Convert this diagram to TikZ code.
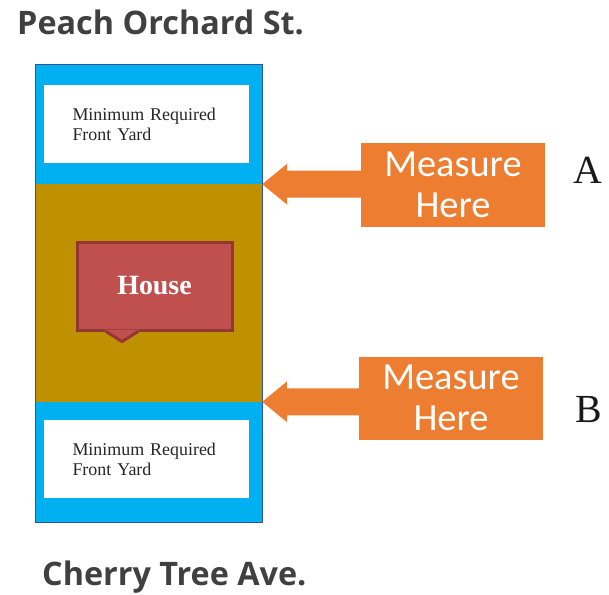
\documentclass[tikz,border=0pt]{standalone}
\usepackage{fontspec}
\setmainfont{Liberation Serif}
\newfontfamily\streetfont{Open Sans}
\newfontfamily\calloutfont{Carlito}
\usetikzlibrary{calc}
\definecolor{yardblue}{HTML}{00B0F0}
\definecolor{lotgold}{HTML}{BF9000}
\definecolor{housered}{HTML}{C0504D}
\definecolor{housedark}{HTML}{943634}
\definecolor{measorange}{HTML}{ED7D31}
\definecolor{lotline}{HTML}{2F5597}
\definecolor{streetgray}{HTML}{404040}

\begin{document}
\begin{tikzpicture}[x=1bp,y=-1bp]
 \tikzstyle{yard}=[fill=yardblue, inner sep=0, minimum width=226bp]
 \tikzstyle{note}=[fill=white, minimum width=205bp, minimum height=78bp, text width=148bp, align=left, text=black!85, font=\fontsize{18}{20}\selectfont]
 \tikzstyle{measure}=[fill=measorange, text=white, align=center, minimum width=184bp, minimum height=83bp, font=\calloutfont\fontsize{38.5}{41}\selectfont]
 \tikzstyle{street}=[anchor=base west, inner sep=0, text=streetgray, font=\streetfont\bfseries\fontsize{32.5}{32}\selectfont]
 \tikzstyle{letter}=[inner sep=0, text=black!90, font=\fontsize{40}{40}\selectfont]
 \useasboundingbox (0,0) rectangle (609,595);

 \node[street] (peach) at (17,35) {Peach Orchard St.};
 \node[street] (cherry) at (42,585) {Cherry Tree Ave.};

 \node[yard, minimum height=119bp] (front) at (149,124.5) {};
 \node[yard, fill=lotgold, minimum height=218bp] (build) at (149,293) {};
 \node[yard, minimum height=120bp] (rear) at (149,462) {};
 \draw[lotline, line width=1.2bp] (front.north west) rectangle (rear.south east);
 \node[note] (frontnote) at (146.5,124) {Minimum Required\\Front Yard};
 \node[note] (rearnote) at (146.5,459) {Minimum Required\\Front Yard};

 \node[fill=housered, draw=housedark, line width=3bp, minimum width=155bp, minimum height=88bp,
   text=white, font=\bfseries\fontsize{28}{28}\selectfont] (house) at (154.5,286) {House};
 \fill[housered] ($(house.south)+(-50,-2)$) -- ($(house.south)+(-15,-2)$) -- ($(house.south)+(-32.5,10)$) -- cycle;
 \draw[housedark, line width=3bp, line join=round] ($(house.south)+(-48.5,0)$) -- ($(house.south)+(-32.5,10)$) -- ($(house.south)+(-16.5,0)$);

 \coordinate (tipA) at (front.south east);
 \coordinate (tipB) at (rear.north east);
 \node[measure] (measA) at (453,185) {Measure\\Here};
 \node[measure] (measB) at (451,398) {Measure\\Here};
 \fill[measorange] (tipA) -- ++(25,-20.5) |- ($(tipA -| measA.west)+(0,-13.5)$) -- ($(tipA -| measA.west)+(0,13.5)$) -| ($(tipA)+(25,20.5)$) -- cycle;
 \fill[measorange] (tipB) -- ++(25,-20.5) |- ($(tipB -| measB.west)+(0,-13.5)$) -- ($(tipB -| measB.west)+(0,13.5)$) -| ($(tipB)+(25,20.5)$) -- cycle;

 \node[letter] (labA) at (588,170) {A};
 \node[letter] (labB) at (589,410) {B};
\end{tikzpicture}
\end{document}
